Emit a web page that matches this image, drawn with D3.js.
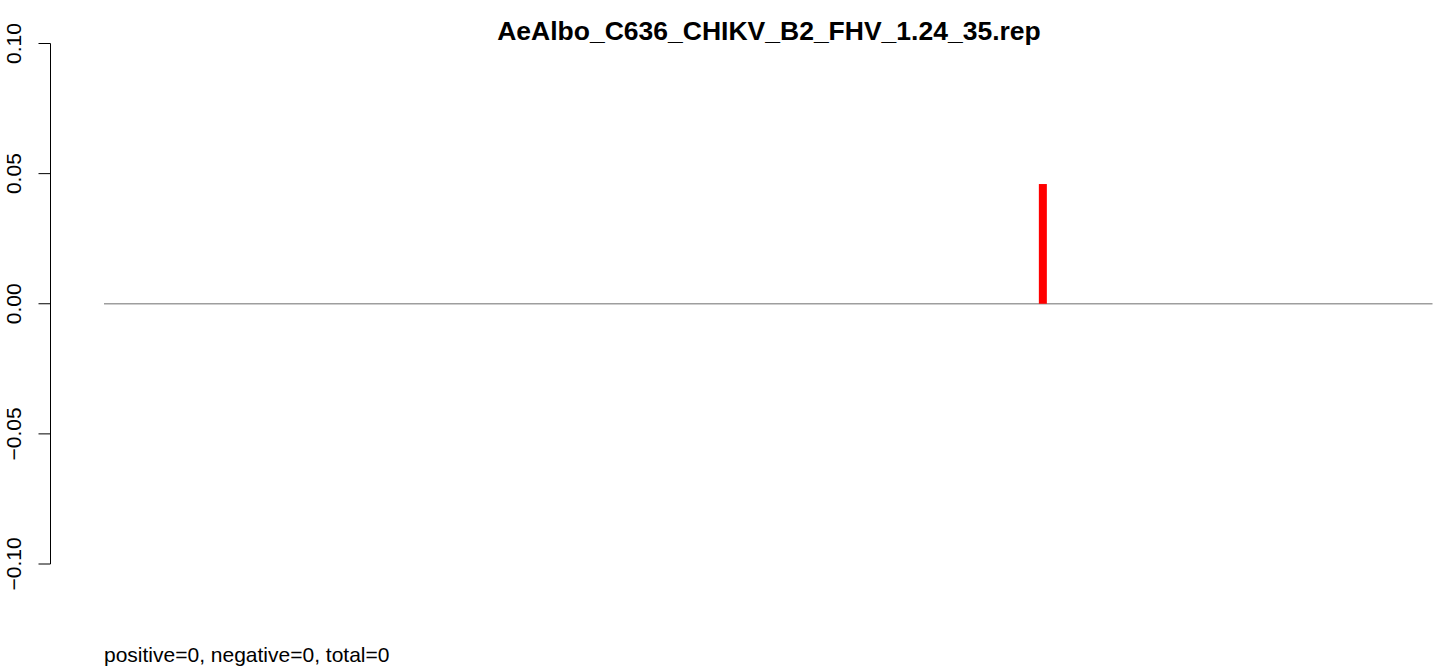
<!DOCTYPE html>
<html><head><meta charset="utf-8">
<script src="https://cdn.jsdelivr.net/npm/d3@7"></script>
<style>body{margin:0;background:#fff}svg{display:block}text{font-family:"Liberation Sans",Arial,Helvetica,sans-serif}</style>
</head><body>
<svg id="c" width="1439" height="670"></svg>
<script>
const title = "AeAlbo_C636_CHIKV_B2_FHV_1.24_35.rep";
const footer = "positive=0, negative=0, total=0";
const yTicks = [-0.10, -0.05, 0.00, 0.05, 0.10];
const yTickLabels = ["\u22120.10", "\u22120.05", "0.00", "0.05", "0.10"];
const positions = [0.7067];   // relative position along the sequence
const values = [0.046];

const svg = d3.select("#c");
const y = d3.scaleLinear().domain([-0.1, 0.1]).range([564, 43.5]);
const x = d3.scaleLinear().domain([0, 1]).range([104, 1432.5]);

// y axis
const axisX = 50.5;
const g = svg.append("g");
g.append("line").attr("x1", axisX).attr("x2", axisX).attr("y1", y(-0.1)).attr("y2", y(0.1))
  .attr("stroke", "#000").attr("stroke-width", 1);
yTicks.forEach((t, i) => {
  g.append("line").attr("x1", axisX - 12).attr("x2", axisX).attr("y1", y(t)).attr("y2", y(t))
    .attr("stroke", "#000").attr("stroke-width", 1);
  g.append("text").attr("transform", `translate(21,${y(t)}) rotate(-90)`)
    .attr("text-anchor", "middle").attr("font-size", 21).text(yTickLabels[i]);
});

// baseline
svg.append("line").attr("x1", x(0)).attr("x2", x(1)).attr("y1", y(0)).attr("y2", y(0))
  .attr("stroke", "#9e9e9e").attr("stroke-width", 1.5);

// bars
svg.selectAll("rect.bar").data(values).enter().append("rect").attr("class", "bar")
  .attr("x", (d, i) => x(positions[i]) - 4).attr("width", 8)
  .attr("y", d => y(Math.max(0, d))).attr("height", d => Math.abs(y(d) - y(0)))
  .attr("fill", "#ff0000");

svg.append("text").attr("x", 769).attr("y", 40).attr("text-anchor", "middle")
  .attr("font-size", 26.5).attr("font-weight", "bold").text(title);
svg.append("text").attr("x", 104).attr("y", 662).attr("font-size", 21).text(footer);
</script>
</body></html>
